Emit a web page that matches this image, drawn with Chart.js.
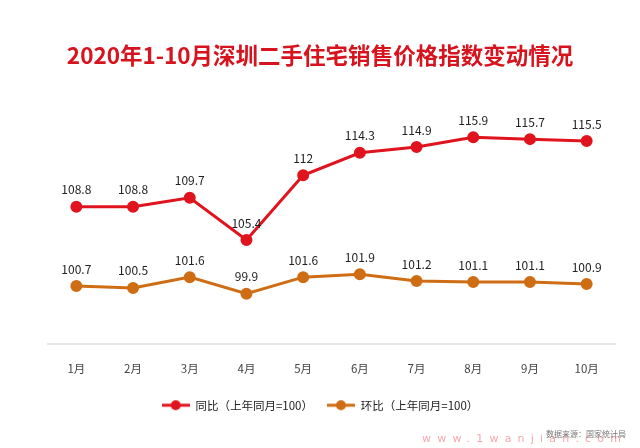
<!DOCTYPE html>
<html>
<head>
<meta charset="utf-8">
<script src="https://cdn.jsdelivr.net/npm/chart.js@4"></script>
<style>
  html, body { margin: 0; padding: 0; background: #fff; }
  #wrap { position: relative; width: 640px; height: 448px; }
  #src { position: absolute; right: 14px; top: 428px; font: 8px "Noto Sans CJK SC"; color: #777; }
  #url { position: absolute; left: 422px; top: 432px; font: 11px "DejaVu Sans"; color: #f4a8ae; letter-spacing: 6.2px; }
</style>
</head>
<body>
<div id="wrap">
  <canvas id="indiceChart" width="640" height="448"></canvas>
  <div id="url">www.1wanjian.com</div>
  <div id="src">数据来源：国家统计局</div>
</div>
<script>
const meses = ['1月', '2月', '3月', '4月', '5月', '6月', '7月', '8月', '9月', '10月'];
const tongbi = [108.8, 108.8, 109.7, 105.4, 112, 114.3, 114.9, 115.9, 115.7, 115.5];
const huanbi = [100.7, 100.5, 101.6, 99.9, 101.6, 101.9, 101.2, 101.1, 101.1, 100.9];

const rojo = '#e0141e';
const naranja = '#cf6d14';
const fuente = '"Noto Sans CJK SC", "Noto Sans", sans-serif';

// icono de leyenda: linea con punto
function iconoLeyenda(color) {
    const c = document.createElement('canvas');
    c.width = 28; c.height = 12;
    const ctx = c.getContext('2d');
    ctx.strokeStyle = color;
    ctx.lineWidth = 3;
    ctx.beginPath(); ctx.moveTo(0, 6); ctx.lineTo(28, 6); ctx.stroke();
    ctx.fillStyle = color;
    ctx.beginPath(); ctx.arc(14, 6, 5, 0, Math.PI * 2); ctx.fill();
    return c;
}

// etiquetas de valor encima de cada punto
const etiquetas = {
    id: 'etiquetas',
    afterDatasetsDraw(chart) {
        const ctx = chart.ctx;
        ctx.save();
        ctx.font = '12px ' + fuente;
        ctx.fillStyle = '#222';
        ctx.textAlign = 'center';
        ctx.textBaseline = 'middle';
        chart.data.datasets.forEach((ds, i) => {
            chart.getDatasetMeta(i).data.forEach((pt, j) => {
                ctx.fillText(String(ds.data[j]), pt.x, pt.y - 17);
            });
        });
        ctx.restore();
    }
};

new Chart(document.getElementById('indiceChart'), {
    type: 'line',
    data: {
        labels: meses,
        datasets: [{
            label: '同比（上年同月=100）',
            data: tongbi,
            borderColor: rojo,
            backgroundColor: rojo,
            borderWidth: 3,
            pointRadius: 4.5,
            pointHoverRadius: 4.5,
            tension: 0
        }, {
            label: '环比（上年同月=100）',
            data: huanbi,
            borderColor: naranja,
            backgroundColor: naranja,
            borderWidth: 3,
            pointRadius: 4.5,
            pointHoverRadius: 4.5,
            tension: 0
        }]
    },
    options: {
        responsive: false,
        animation: false,
        layout: { padding: { left: 25, right: 25, top: 0, bottom: 27 } },
        plugins: {
            title: {
                display: true,
                text: '2020年1-10月深圳二手住宅销售价格指数变动情况',
                color: '#d7141e',
                font: { family: fuente, size: 22.5, weight: 'bold' },
                padding: { top: 42, bottom: 30 }
            },
            legend: {
                position: 'bottom',
                labels: {
                    usePointStyle: true,
                    pointStyleWidth: 28,
                    color: '#222',
                    font: { family: fuente, size: 11.5 },
                    padding: 14,
                    generateLabels(chart) {
                        return chart.data.datasets.map((ds, i) => ({
                            text: ds.label,
                            pointStyle: iconoLeyenda(ds.borderColor),
                            fillStyle: ds.borderColor,
                            strokeStyle: ds.borderColor,
                            fontColor: '#222',
                            lineWidth: 0,
                            datasetIndex: i
                        }));
                    }
                }
            },
            tooltip: { enabled: false }
        },
        scales: {
            x: {
                offset: true,
                grid: { display: false },
                border: { color: '#e6e6e6', width: 2 },
                ticks: { color: '#444', font: { family: fuente, size: 11.5 }, padding: 10 }
            },
            y: {
                min: 94.8,
                max: 119.8,
                grid: { display: false },
                border: { display: false },
                ticks: { display: false },
                afterFit(scale) { scale.width = 23; }
            }
        }
    },
    plugins: [etiquetas]
});
</script>
</body>
</html>
